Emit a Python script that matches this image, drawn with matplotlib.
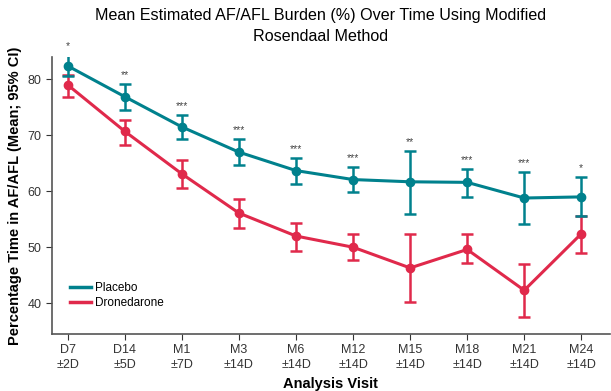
import numpy as np
import matplotlib
matplotlib.use("Agg")
import matplotlib.pyplot as plt
from matplotlib.lines import Line2D

plt.rcParams['font.family'] = ['Liberation Sans', 'DejaVu Sans']

visits = ["D7\n±2D", "D14\n±5D", "M1\n±7D", "M3\n±14D", "M6\n±14D",
          "M12\n±14D", "M15\n±14D", "M18\n±14D", "M21\n±14D", "M24\n±14D"]

placebo = [82.4, 76.9, 71.5, 67.0, 63.7, 62.1, 61.7, 61.6, 58.8, 59.0]
placebo_lo = [80.7, 74.6, 69.3, 64.7, 61.3, 59.8, 56.0, 59.0, 54.2, 55.6]
placebo_hi = [84.3, 79.1, 73.7, 69.3, 65.9, 64.4, 67.2, 64.0, 63.4, 62.5]

drone = [79.0, 70.7, 63.1, 56.1, 52.0, 50.0, 46.3, 49.6, 42.3, 52.4]
drone_lo = [76.9, 68.2, 60.6, 53.5, 49.4, 47.7, 40.2, 47.1, 37.5, 48.9]
drone_hi = [80.8, 72.8, 65.6, 58.6, 54.4, 52.4, 52.3, 52.3, 47.0, 55.5]

stars = ["*", "**", "***", "***", "***", "***", "**", "***", "***", "*"]

teal = "#00818d"
red = "#e0294b"

fig = plt.figure(figsize=(6.11, 3.91), dpi=100)
ax = fig.add_axes([0.085, 0.146, 0.913, 0.708])

x = np.arange(len(visits))
p = np.array(placebo)
d = np.array(drone)

ax.errorbar(x, d, yerr=[d - np.array(drone_lo), np.array(drone_hi) - d],
            color=red, lw=2.2, marker='o', ms=6, capsize=4, capthick=1.8,
            elinewidth=1.8, label="Dronedarone", zorder=3)
ax.errorbar(x, p, yerr=[p - np.array(placebo_lo), np.array(placebo_hi) - p],
            color=teal, lw=2.2, marker='o', ms=6, capsize=4, capthick=1.8,
            elinewidth=1.8, label="Placebo", zorder=4)

for i in range(len(x)):
    ax.text(x[i], placebo_hi[i] + 0.7, stars[i], ha='center', va='bottom',
            fontsize=7.5, color='#444444')

ax.set_xlim(-0.28, 9.5)
ax.set_ylim(34.5, 84)
ax.set_yticks([40, 50, 60, 70, 80])
ax.set_xticks(x)
ax.set_xticklabels(visits, linespacing=1.3)
ax.tick_params(labelsize=9, colors='#333333', length=4)

for s in ['top', 'right']:
    ax.spines[s].set_visible(False)
for s in ['left', 'bottom']:
    ax.spines[s].set_color('#555555')
    ax.spines[s].set_linewidth(1.2)

ax.set_xlabel("Analysis Visit", fontsize=10.5, fontweight='bold')
ax.set_ylabel("Percentage Time in AF/AFL (Mean; 95% CI)", fontsize=10.5,
              fontweight='bold')

handles = [Line2D([], [], color=teal, lw=2.5), Line2D([], [], color=red, lw=2.5)]
ax.legend(handles, ["Placebo", "Dronedarone"], loc='lower left',
          bbox_to_anchor=(0.013, 0.05), frameon=False, fontsize=8.5,
          handlelength=1.8, handletextpad=0.3, labelspacing=0.3)

fig.text(0.524, 0.98, "Mean Estimated AF/AFL Burden (%) Over Time Using Modified\nRosendaal Method",
         ha='center', va='top', fontsize=11.6, linespacing=1.5)

fig.savefig("out.png", dpi=100)
